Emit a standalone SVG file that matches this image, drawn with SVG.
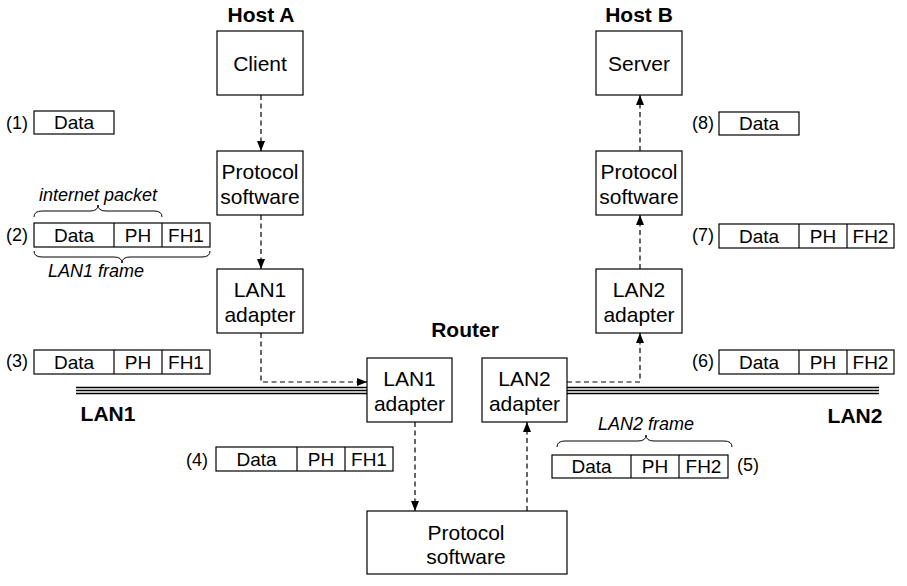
<svg xmlns="http://www.w3.org/2000/svg" width="907" height="586" viewBox="0 0 907 586">
<style>
.box{fill:#fff;stroke:#000;stroke-width:1.2}
.bt{font-family:"Liberation Sans",Arial,sans-serif;font-size:21px;text-anchor:middle;fill:#000}
.pt{font-family:"Liberation Sans",Arial,sans-serif;font-size:19px;text-anchor:middle;fill:#000}
.lb{font-family:"Liberation Sans",Arial,sans-serif;font-size:18px;fill:#000}
.tt{font-family:"Liberation Sans",Arial,sans-serif;font-size:21px;font-weight:bold;text-anchor:middle;fill:#000}
.it{font-family:"Liberation Sans",Arial,sans-serif;font-size:18px;font-style:italic;text-anchor:middle;fill:#000}
.dash{fill:none;stroke:#000;stroke-width:1.2;stroke-dasharray:5,3.5}
.brace{fill:none;stroke:#000;stroke-width:1}
.lan{stroke:#000;stroke-width:1.3}
</style>
<defs>
<marker id="ah" markerUnits="userSpaceOnUse" markerWidth="10" markerHeight="10" viewBox="0 0 10 10" refX="10" refY="5" orient="auto">
<path d="M0,1 L10,5 L0,9 Z" fill="#000"/>
</marker>
</defs>

<!-- titles -->
<text class="tt" x="261" y="22">Host A</text>
<text class="tt" x="639" y="22">Host B</text>
<text class="tt" x="465" y="337">Router</text>
<text class="tt" x="108" y="421">LAN1</text>
<text class="tt" x="855" y="423">LAN2</text>

<!-- LAN lines -->
<g id="lan1">
<line class="lan" x1="76" y1="387.5" x2="367" y2="387.5"/>
<line class="lan" x1="76" y1="390.5" x2="367" y2="390.5"/>
<line class="lan" x1="76" y1="393.5" x2="367" y2="393.5"/>
</g>
<g id="lan2">
<line class="lan" x1="567" y1="387.5" x2="879" y2="387.5"/>
<line class="lan" x1="567" y1="390.5" x2="879" y2="390.5"/>
<line class="lan" x1="567" y1="393.5" x2="879" y2="393.5"/>
</g>

<!-- connectors -->
<g id="connectors">
<path class="dash" d="M261,95 V151" marker-end="url(#ah)"/>
<path class="dash" d="M261,215 V269" marker-end="url(#ah)"/>
<path class="dash" d="M261,333 V382 H367" marker-end="url(#ah)"/>
<path class="dash" d="M415,422 V511" marker-end="url(#ah)"/>
<path class="dash" d="M527,511 V422" marker-end="url(#ah)"/>
<path class="dash" d="M567,382 H640 V333" marker-end="url(#ah)"/>
<path class="dash" d="M640,269 V215" marker-end="url(#ah)"/>
<path class="dash" d="M640,151 V95" marker-end="url(#ah)"/>
</g>

<!-- nodes -->
<g id="client"><rect class="box" x="217" y="31" width="86" height="64"/><text class="bt" x="260" y="71">Client</text></g>
<g id="protoA"><rect class="box" x="217" y="151" width="86" height="64"/><text class="bt" x="260" y="179">Protocol</text><text class="bt" x="260" y="204">software</text></g>
<g id="lan1adA"><rect class="box" x="217" y="269" width="86" height="64"/><text class="bt" x="260" y="297">LAN1</text><text class="bt" x="260" y="322">adapter</text></g>

<g id="server"><rect class="box" x="596" y="31" width="86" height="64"/><text class="bt" x="639" y="71">Server</text></g>
<g id="protoB"><rect class="box" x="596" y="151" width="86" height="64"/><text class="bt" x="639" y="179">Protocol</text><text class="bt" x="639" y="204">software</text></g>
<g id="lan2adB"><rect class="box" x="596" y="269" width="86" height="64"/><text class="bt" x="639" y="297">LAN2</text><text class="bt" x="639" y="322">adapter</text></g>

<g id="rlan1"><rect class="box" x="367" y="358" width="85" height="64"/><text class="bt" x="409.5" y="386">LAN1</text><text class="bt" x="409.5" y="411">adapter</text></g>
<g id="rlan2"><rect class="box" x="482" y="358" width="85" height="64"/><text class="bt" x="524.5" y="386">LAN2</text><text class="bt" x="524.5" y="411">adapter</text></g>
<g id="rproto"><rect class="box" x="367" y="511" width="200" height="63"/><text class="bt" x="466" y="540">Protocol</text><text class="bt" x="466" y="564">software</text></g>

<!-- packets -->
<g id="p1">
<text class="lb" x="28" y="129" text-anchor="end">(1)</text>
<rect class="box" x="34" y="111" width="80" height="23"/>
<text class="pt" x="74" y="129">Data</text>
</g>
<g id="p2">
<text class="lb" x="28" y="241" text-anchor="end">(2)</text>
<rect class="box" x="34" y="223" width="176" height="24"/>
<line class="box" x1="114" y1="223" x2="114" y2="247"/>
<line class="box" x1="162" y1="223" x2="162" y2="247"/>
<text class="pt" x="74" y="242">Data</text><text class="pt" x="138" y="242">PH</text><text class="pt" x="186" y="242">FH1</text>
<text class="it" x="98" y="201">internet packet</text>
<path class="brace" d="M34,217 Q34,211 42,211 L90,211 Q98,211 98,205 Q98,211 106,211 L154,211 Q162,211 162,217"/>
<path class="brace" d="M34,251 Q34,257 42,257 L114,257 Q122,257 122,263 Q122,257 130,257 L202,257 Q210,257 210,251"/>
<text class="it" x="96" y="277">LAN1 frame</text>
</g>
<g id="p3">
<text class="lb" x="28" y="367" text-anchor="end">(3)</text>
<rect class="box" x="34" y="350" width="176" height="24"/>
<line class="box" x1="114" y1="350" x2="114" y2="374"/>
<line class="box" x1="162" y1="350" x2="162" y2="374"/>
<text class="pt" x="74" y="369">Data</text><text class="pt" x="138" y="369">PH</text><text class="pt" x="186" y="369">FH1</text>
</g>
<g id="p4">
<text class="lb" x="208" y="466" text-anchor="end">(4)</text>
<rect class="box" x="216" y="447" width="177" height="24"/>
<line class="box" x1="297" y1="447" x2="297" y2="471"/>
<line class="box" x1="345" y1="447" x2="345" y2="471"/>
<text class="pt" x="256.5" y="466">Data</text><text class="pt" x="321" y="466">PH</text><text class="pt" x="369" y="466">FH1</text>
</g>
<g id="p5">
<text class="it" x="646" y="430">LAN2 frame</text>
<path class="brace" d="M557,447 Q557,441 565,441 L638,441 Q646,441 646,435 Q646,441 654,441 L724,441 Q732,441 732,447"/>
<rect class="box" x="552" y="455" width="176" height="23"/>
<line class="box" x1="631" y1="455" x2="631" y2="478"/>
<line class="box" x1="679" y1="455" x2="679" y2="478"/>
<text class="pt" x="591.5" y="473">Data</text><text class="pt" x="655" y="473">PH</text><text class="pt" x="703.5" y="473">FH2</text>
<text class="lb" x="737" y="471">(5)</text>
</g>
<g id="p6">
<text class="lb" x="714" y="367" text-anchor="end">(6)</text>
<rect class="box" x="719" y="350" width="175" height="24"/>
<line class="box" x1="799" y1="350" x2="799" y2="374"/>
<line class="box" x1="847" y1="350" x2="847" y2="374"/>
<text class="pt" x="759" y="369">Data</text><text class="pt" x="823" y="369">PH</text><text class="pt" x="870.5" y="369">FH2</text>
</g>
<g id="p7">
<text class="lb" x="714" y="241" text-anchor="end">(7)</text>
<rect class="box" x="719" y="224" width="175" height="24"/>
<line class="box" x1="799" y1="224" x2="799" y2="248"/>
<line class="box" x1="847" y1="224" x2="847" y2="248"/>
<text class="pt" x="759" y="243">Data</text><text class="pt" x="823" y="243">PH</text><text class="pt" x="870.5" y="243">FH2</text>
</g>
<g id="p8">
<text class="lb" x="714" y="129" text-anchor="end">(8)</text>
<rect class="box" x="719" y="112" width="80" height="23"/>
<text class="pt" x="759" y="130">Data</text>
</g>
</svg>
